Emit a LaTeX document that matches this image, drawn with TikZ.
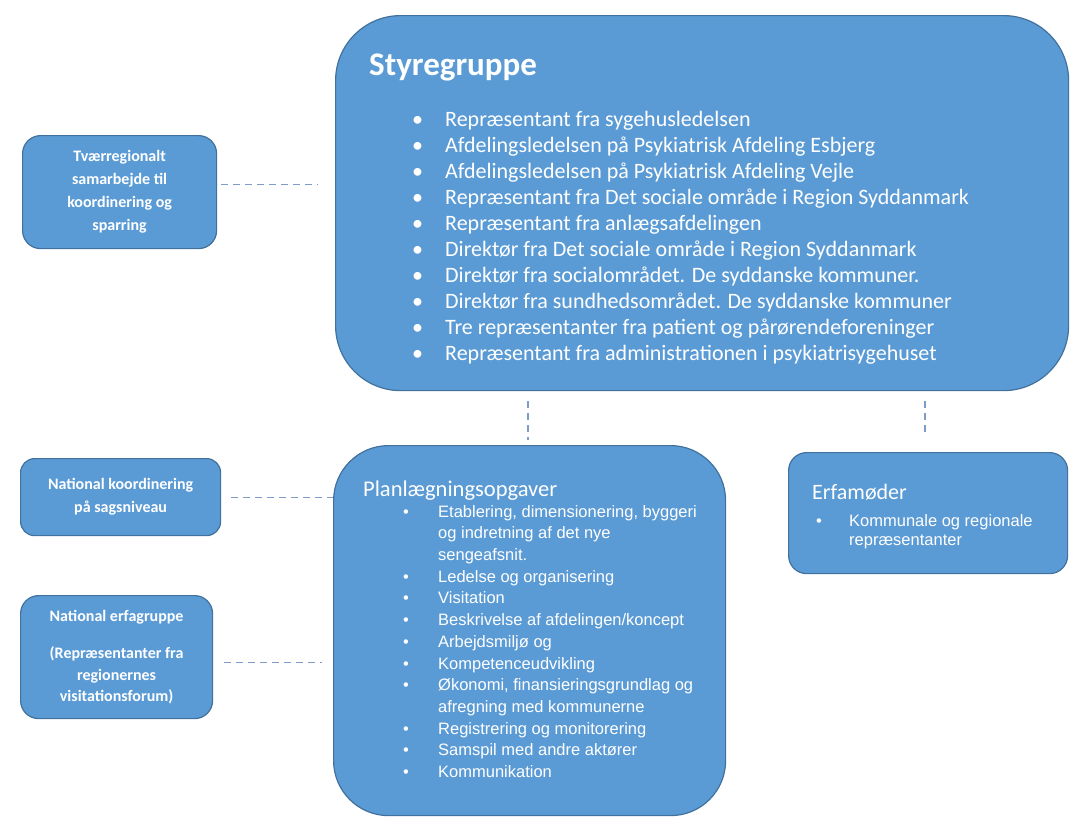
\documentclass[tikz,border=0pt]{standalone}
\usepackage{fontspec}
\setmainfont{Carlito}
\newfontfamily\arialf{Liberation Sans}
\definecolor{boxblue}{HTML}{5B9BD5}
\definecolor{boxedge}{HTML}{41719C}
\definecolor{dashc}{HTML}{7F9CC8}
\newcommand\bul{\makebox[33pt][l]{\textbullet}}
\newcommand\pbul{\makebox[35pt][l]{\textbullet}}
\newcommand\pind{\hspace*{35pt}}
\newcommand\ebul{\makebox[33pt][l]{\textbullet}}
\newcommand\eind{\hspace*{33pt}}
\begin{document}
\begin{tikzpicture}[x=1pt,y=-1pt,
  box/.style={draw=boxedge, line width=1.2pt, fill=boxblue, anchor=north west, inner sep=0pt},
  conn/.style={draw=dashc, dash pattern=on 7pt off 5pt, line width=1.2pt},
  txt/.style={text=white, anchor=north west, inner sep=0pt, align=left},
  ttl/.style={text=white, anchor=base west, inner sep=0pt},
  sidetxt/.style={text=white, anchor=center, inner sep=0pt, align=center, font=\fontsize{16}{23}\selectfont\bfseries}]
\useasboundingbox (0,0) rectangle (1075,823);
% boxes
\node[box, rounded corners=65pt, minimum width=733pt, minimum height=375pt] (styr) at (335,15) {};
\node[box, rounded corners=18pt, minimum width=194pt, minimum height=113pt] (tvaer) at (22,135) {};
\node[box, rounded corners=14pt, minimum width=200pt, minimum height=77pt] (natk) at (20,458) {};
\node[box, rounded corners=18pt, minimum width=192pt, minimum height=123pt] (nate) at (20,595) {};
\node[box, rounded corners=55pt, minimum width=392pt, minimum height=370pt] (plan) at (333,445) {};
\node[box, rounded corners=18pt, minimum width=279pt, minimum height=121pt] (erfa) at (788,452) {};
% connector end points
\coordinate (tv) at ([yshift=8pt]tvaer.east);
\coordinate (ne) at ([yshift=-5pt]nate.east);
% connectors
\draw[conn, shorten <=4pt, shorten >=17pt] (tv) -- (styr.west |- tv);
\draw[conn, shorten <=10pt, shorten >=0pt] (natk.east) -- (plan.west |- natk.east);
\draw[conn, shorten <=11pt, shorten >=11pt] (ne) -- (plan.west |- ne);
\draw[conn, shorten <=10pt, shorten >=5pt] (styr.south -| 528,0) -- (plan.north -| 528,0);
\draw[conn, shorten <=10pt, shorten >=20pt] (styr.south -| 925,0) -- (erfa.north -| 925,0);
% texts
\node[ttl, font=\fontsize{33}{38}\selectfont\bfseries] (styrt) at (369,75) {Styregruppe};
\node[txt, font=\fontsize{22}{26}\selectfont] (styri) at (412,111) {%
\bul Repræsentant fra sygehusledelsen\\
\bul Afdelingsledelsen på Psykiatrisk Afdeling Esbjerg\\
\bul Afdelingsledelsen på Psykiatrisk Afdeling Vejle\\
\bul Repræsentant fra Det sociale område i Region Syddanmark\\
\bul Repræsentant fra anlægsafdelingen\\
\bul Direktør fra Det sociale område i Region Syddanmark\\
\bul Direktør fra socialområdet. De syddanske kommuner.\\
\bul Direktør fra sundhedsområdet. De syddanske kommuner\\
\bul Tre repræsentanter fra patient og pårørendeforeninger\\
\bul Repræsentant fra administrationen i psykiatrisygehuset};
\node[sidetxt] (tvaert) at (tvaer.center) {Tværregionalt\\samarbejde til\\koordinering og\\sparring};
\node[sidetxt] (natkt) at (natk.center) {National koordinering\\på sagsniveau};
\node[sidetxt, font=\fontsize{16}{21.5}\selectfont\bfseries] (natet) at (nate.center) {National erfagruppe\\[16pt](Repræsentanter fra\\regionernes\\visitationsforum)};
\node[ttl, font=\fontsize{22.5}{26}\selectfont] (plant) at (363,496) {Planlægningsopgaver};
\node[txt, font=\arialf\fontsize{16.5}{21.7}\selectfont] (plani) at (403,505) {%
\pbul Etablering, dimensionering, byggeri\\
\pind og indretning af det nye\\
\pind sengeafsnit.\\
\pbul Ledelse og organisering\\
\pbul Visitation\\
\pbul Beskrivelse af afdelingen/koncept\\
\pbul Arbejdsmiljø og\\
\pbul Kompetenceudvikling\\
\pbul Økonomi, finansieringsgrundlag og\\
\pind afregning med kommunerne\\
\pbul Registrering og monitorering\\
\pbul Samspil med andre aktører\\
\pbul Kommunikation};
\node[ttl, font=\fontsize{22}{26}\selectfont] (erfat) at (812,499) {Erfamøder};
\node[txt, font=\arialf\fontsize{16.5}{19}\selectfont] (erfai) at (816,514) {%
\ebul Kommunale og regionale\\
\eind repræsentanter};
\end{tikzpicture}
\end{document}
